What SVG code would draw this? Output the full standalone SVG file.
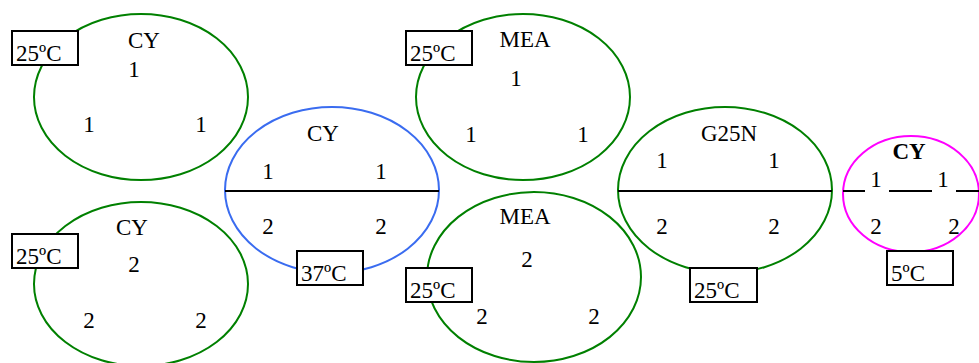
<svg xmlns="http://www.w3.org/2000/svg" width="979" height="363" viewBox="0 0 979 363">
<style>
text{font-family:"Liberation Serif","Times New Roman",serif;font-size:23px;fill:#000}
.m{text-anchor:middle}
.e{fill:none;stroke-width:2}
.g{stroke:#008000}
.b{stroke:#3a6cf0}
.p{stroke:#ff00ff}
.box{fill:#fff;stroke:#000;stroke-width:2}
.ln{stroke:#000;stroke-width:2}
</style>
<rect width="979" height="363" fill="#fff"/>
<g id="node-cy-1">
<ellipse class="e g" cx="141" cy="97" rx="107" ry="83"/>
<text class="m" x="144" y="48">CY</text>
<text class="m" x="134" y="77">1</text>
<text class="m" x="89" y="132">1</text>
<text class="m" x="201" y="132">1</text>
<rect class="box" x="12" y="31" width="66" height="34"/>
<text x="16" y="61">25ºC</text>
</g>
<g id="node-cy-2">
<ellipse class="e g" cx="141" cy="284" rx="107" ry="82"/>
<text class="m" x="132" y="235">CY</text>
<text class="m" x="134" y="272">2</text>
<text class="m" x="89" y="328">2</text>
<text class="m" x="201" y="328">2</text>
<rect class="box" x="12" y="234" width="66" height="34"/>
<text x="16" y="264">25ºC</text>
</g>
<g id="node-cy-37">
<ellipse class="e b" cx="332" cy="190" rx="107" ry="83"/>
<line class="ln" x1="225" y1="191" x2="439" y2="191"/>
<text class="m" x="323" y="141">CY</text>
<text class="m" x="268" y="179">1</text>
<text class="m" x="381" y="179">1</text>
<text class="m" x="268" y="234">2</text>
<text class="m" x="381" y="234">2</text>
<rect class="box" x="297" y="251" width="66" height="34"/>
<text x="301" y="281">37ºC</text>
</g>
<g id="node-mea-1">
<ellipse class="e g" cx="523" cy="97" rx="107" ry="83"/>
<text class="m" x="525" y="47">MEA</text>
<text class="m" x="516" y="86">1</text>
<text class="m" x="471" y="142">1</text>
<text class="m" x="583" y="142">1</text>
<rect class="box" x="406" y="31" width="66" height="34"/>
<text x="410" y="61">25ºC</text>
</g>
<g id="node-mea-2">
<ellipse class="e g" cx="534" cy="277" rx="107" ry="85"/>
<text class="m" x="525" y="224">MEA</text>
<text class="m" x="527" y="267">2</text>
<text class="m" x="482" y="324">2</text>
<text class="m" x="594" y="324">2</text>
<rect class="box" x="406" y="268" width="66" height="34"/>
<text x="410" y="298">25ºC</text>
</g>
<g id="node-g25n">
<ellipse class="e g" cx="725" cy="190" rx="107" ry="83"/>
<line class="ln" x1="618" y1="191" x2="832" y2="191"/>
<text class="m" x="729" y="141">G25N</text>
<text class="m" x="662" y="168">1</text>
<text class="m" x="774" y="168">1</text>
<text class="m" x="662" y="234">2</text>
<text class="m" x="774" y="234">2</text>
<rect class="box" x="690" y="268" width="67" height="34"/>
<text x="694" y="298">25ºC</text>
</g>
<g id="node-cy-5">
<ellipse class="e p" cx="911" cy="194" rx="68" ry="58"/>
<line class="ln" x1="843" y1="191" x2="865" y2="191"/>
<line class="ln" x1="889" y1="191" x2="932" y2="191"/>
<line class="ln" x1="956" y1="191" x2="979" y2="191"/>
<text class="m" x="909" y="159" font-weight="bold">CY</text>
<text class="m" x="876" y="187">1</text>
<text class="m" x="943" y="187">1</text>
<text class="m" x="876" y="234">2</text>
<text class="m" x="954" y="234">2</text>
<rect class="box" x="887" y="251" width="66" height="34"/>
<text x="891" y="281">5ºC</text>
</g>
</svg>
